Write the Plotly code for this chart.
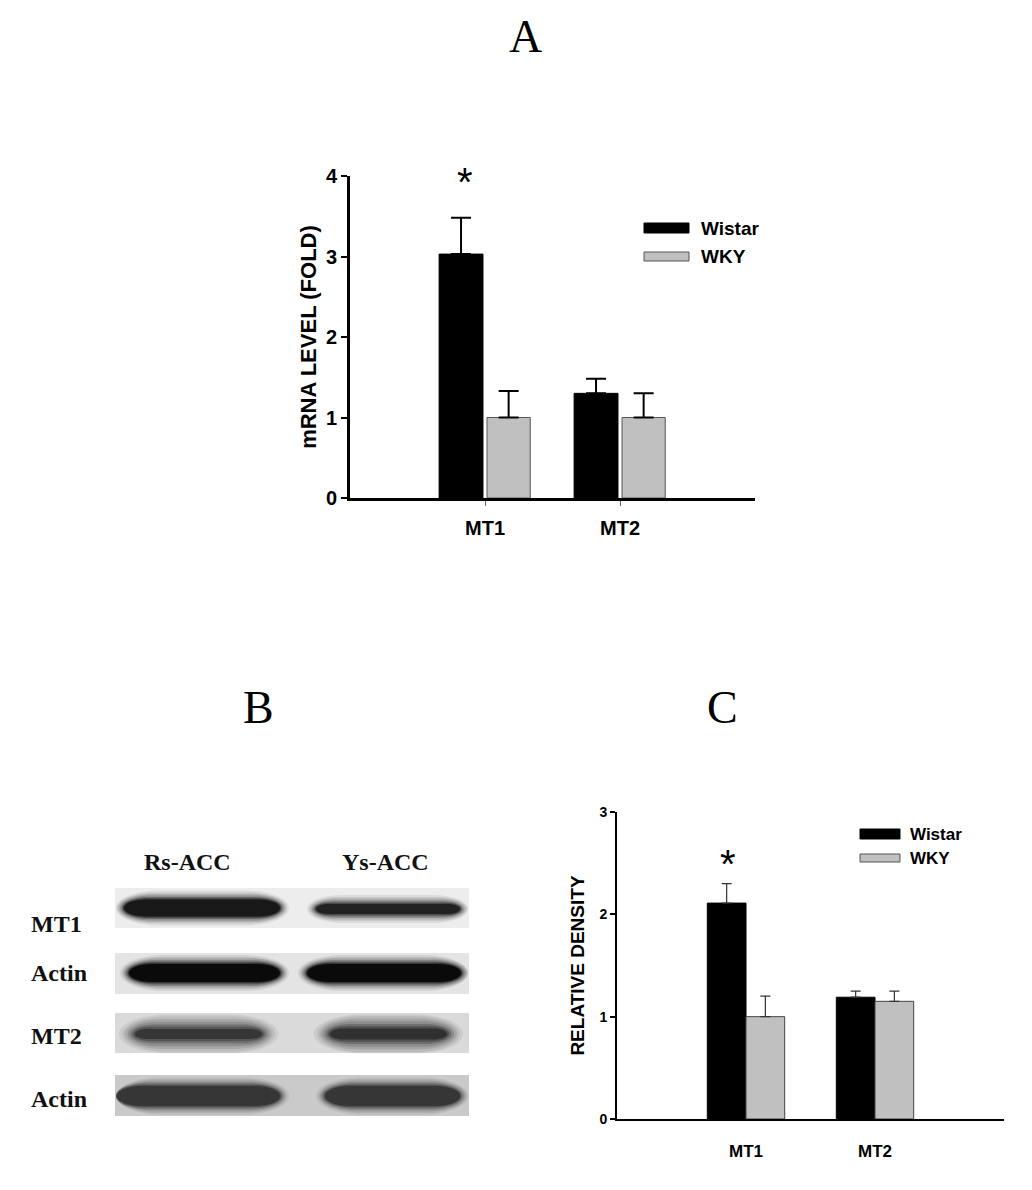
import plotly.graph_objects as go

# the page puts the figure 8px in from the top-left corner
OFF = 8
W, H = 1032 - 2 * OFF, 1190 - 2 * OFF

# ── Data ────────────────────────────────────────────────────────────────
categories = ["MT1", "MT2"]
x_pos = [1, 2]

mrna_wistar = [3.03, 1.30]
mrna_wistar_err = [0.45, 0.18]
mrna_wky = [1.00, 1.00]
mrna_wky_err = [0.33, 0.30]

dens_wistar = [2.11, 1.19]
dens_wistar_err = [0.19, 0.06]
dens_wky = [1.00, 1.15]
dens_wky_err = [0.20, 0.10]

blot_lanes = ["Rs-ACC", "Ys-ACC"]
blot_rows = ["MT1", "Actin", "MT2", "Actin"]

SANS = "Liberation Sans, Arial, sans-serif"
SERIF = "Liberation Serif, Times New Roman, serif"
BLACK = "#000000"
GREY = "#c0c0c0"


def px(x):
    return (x - OFF) / W


def py(y):
    return 1 - (y - OFF) / H


fig = go.Figure()

# ── Panel A ─────────────────────────────────────────────────────────────
fig.add_trace(go.Bar(
    x=x_pos, y=mrna_wistar, width=0.325, offset=-0.34,
    marker=dict(color=BLACK, line=dict(color=BLACK, width=1)),
    error_y=dict(type="data", symmetric=False, array=mrna_wistar_err,
                 arrayminus=[0, 0], color=BLACK, thickness=2, width=10),
    name="Wistar", showlegend=False, xaxis="x", yaxis="y"))
fig.add_trace(go.Bar(
    x=x_pos, y=mrna_wky, width=0.32, offset=0.015,
    marker=dict(color=GREY, line=dict(color="#555555", width=1)),
    error_y=dict(type="data", symmetric=False, array=mrna_wky_err,
                 arrayminus=[0, 0], color=BLACK, thickness=2, width=10),
    name="WKY", showlegend=False, xaxis="x", yaxis="y"))

# ── Panel C ─────────────────────────────────────────────────────────────
fig.add_trace(go.Bar(
    x=x_pos, y=dens_wistar, width=0.3, offset=-0.3,
    marker=dict(color=BLACK, line=dict(color=BLACK, width=1)),
    error_y=dict(type="data", symmetric=False, array=dens_wistar_err,
                 arrayminus=[0, 0], color="#333333", thickness=1.2, width=5),
    name="Wistar", showlegend=False, xaxis="x2", yaxis="y2"))
fig.add_trace(go.Bar(
    x=x_pos, y=dens_wky, width=0.3, offset=0.0,
    marker=dict(color=GREY, line=dict(color="#444444", width=1)),
    error_y=dict(type="data", symmetric=False, array=dens_wky_err,
                 arrayminus=[0, 0], color="#333333", thickness=1.2, width=5),
    name="WKY", showlegend=False, xaxis="x2", yaxis="y2"))

shapes = []
annots = []

# manual legends (long flat swatches like the original)
for (x0, x1, yw, yk, tx, fs) in [(644, 689, (223, 233), (252, 261), 699, 19),
                                  (860, 900, (829, 839), (854, 862), 908, 17)]:
    shapes.append(dict(type="rect", xref="paper", yref="paper",
                       x0=px(x0), x1=px(x1), y0=py(yw[1]), y1=py(yw[0]),
                       fillcolor=BLACK, line=dict(color=BLACK, width=1)))
    shapes.append(dict(type="rect", xref="paper", yref="paper",
                       x0=px(x0), x1=px(x1), y0=py(yk[1]), y1=py(yk[0]),
                       fillcolor=GREY, line=dict(color="#555555", width=1)))
    for label, (a, b) in zip(["Wistar", "WKY"], [yw, yk]):
        annots.append(dict(text=f"<b>{label}</b>", xref="paper", yref="paper",
                           x=px(tx), y=py((a + b) / 2), xanchor="left",
                           yanchor="middle", showarrow=False,
                           font=dict(family=SANS, size=fs, color=BLACK)))

# significance stars
annots.append(dict(text="*", xref="paper", yref="paper", x=px(465), y=py(182),
                   xanchor="center", yanchor="middle", showarrow=False,
                   font=dict(family=SANS, size=40, color=BLACK)))
annots.append(dict(text="*", xref="paper", yref="paper", x=px(728), y=py(864),
                   xanchor="center", yanchor="middle", showarrow=False,
                   font=dict(family=SANS, size=40, color=BLACK)))

# panel letters
for letter, (lx, ly) in zip("ABC", [(525, 37), (258, 707), (722, 707)]):
    annots.append(dict(text=letter, xref="paper", yref="paper",
                       x=px(lx), y=py(ly), xanchor="center", yanchor="middle",
                       showarrow=False,
                       font=dict(family=SERIF, size=46, color=BLACK)))

# ── Panel B : western blot drawn with shapes ────────────────────────────
strips = [  # y0, y1, background
    (888, 928, "#ededed"),
    (953, 994, "#e4e4e4"),
    (1013, 1053, "#dadada"),
    (1075, 1116, "#cacaca"),
]
bands = [  # strip index, x0, x1, y-centre, height, colour, blur
    (0, 124, 280, 908, 17, "#141414", 1.0),
    (0, 316, 460, 909, 10, "#1e1e1e", 1.0),
    (1, 129, 280, 973, 18, "#060606", 1.0),
    (1, 307, 461, 973, 18, "#060606", 1.0),
    (2, 135, 262, 1034, 10, "#333333", 1.8),
    (2, 330, 447, 1034, 11, "#2c2c2c", 1.8),
    (3, 117, 280, 1096, 20, "#333333", 1.0),
    (3, 325, 460, 1096, 20, "#333333", 1.0),
]


def stadium(x0, x1, yc, h):
    ry = h / 2
    rx = min(ry * 2.5, (x1 - x0) / 2)
    k = 0.5523
    a, b = x0 + rx, x1 - rx
    top, bot = yc - ry, yc + ry
    pts = [
        f"M{px(a)},{py(top)}",
        f"L{px(b)},{py(top)}",
        f"C{px(b + k * rx)},{py(top)} {px(x1)},{py(yc - k * ry)} {px(x1)},{py(yc)}",
        f"C{px(x1)},{py(yc + k * ry)} {px(b + k * rx)},{py(bot)} {px(b)},{py(bot)}",
        f"L{px(a)},{py(bot)}",
        f"C{px(a - k * rx)},{py(bot)} {px(x0)},{py(yc + k * ry)} {px(x0)},{py(yc)}",
        f"C{px(x0)},{py(yc - k * ry)} {px(a - k * rx)},{py(top)} {px(a)},{py(top)}",
        "Z",
    ]
    return " ".join(pts)


for y0, y1, bg in strips:
    shapes.append(dict(type="rect", xref="paper", yref="paper",
                       x0=px(115), x1=px(469), y0=py(y1), y1=py(y0),
                       fillcolor=bg, line=dict(width=0), layer="above"))

for si, x0, x1, yc, h, col, blur in bands:
    y0s, y1s, _ = strips[si]
    for grow, op in [(9, 0.08), (7, 0.1), (5.5, 0.14), (4, 0.2),
                     (2.5, 0.3), (1.2, 0.45), (0, 0.9)]:
        g = grow * blur
        hh = min(h + 2 * g, (y1s - y0s) - 1)
        shapes.append(dict(type="path", xref="paper", yref="paper",
                           path=stadium(max(x0 - g, 116), min(x1 + g, 468), yc, hh),
                           fillcolor=col, opacity=op, line=dict(width=0),
                           layer="above"))

for lane, cx in zip(blot_lanes, [187, 385]):
    annots.append(dict(text=f"<b>{lane}</b>", xref="paper", yref="paper",
                       x=px(cx), y=py(862), xanchor="center", yanchor="middle",
                       showarrow=False,
                       font=dict(family=SERIF, size=24, color="#111111")))

for row, cy in zip(blot_rows, [924, 973, 1036, 1099]):
    annots.append(dict(text=f"<b>{row}</b>", xref="paper", yref="paper",
                       x=px(29), y=py(cy), xanchor="left", yanchor="middle",
                       showarrow=False,
                       font=dict(family=SERIF, size=24, color="#111111")))

# ── Axes ────────────────────────────────────────────────────────────────
fig.update_layout(
    width=W, height=H,
    margin=dict(l=0, r=0, t=0, b=0),
    plot_bgcolor="white", paper_bgcolor="white",
    barmode="overlay",
    shapes=shapes, annotations=annots,
    xaxis=dict(domain=[px(350), px(755)], anchor="y", range=[0, 3],
               tickvals=x_pos, ticktext=[f"<b>{c}</b>" for c in categories],
               ticks="outside", ticklen=5, tickwidth=1, tickcolor="#666666",
               ticklabelstandoff=5,
               showline=True, linewidth=3, linecolor=BLACK,
               showgrid=False, zeroline=False,
               tickfont=dict(family=SANS, size=20, color=BLACK)),
    yaxis=dict(domain=[py(498), py(176)], anchor="x", range=[0, 4],
               tickvals=[0, 1, 2, 3, 4], ticktext=[f"<b>{v}</b>" for v in range(5)],
               ticks="outside", ticklen=6, tickwidth=2, tickcolor=BLACK,
               showline=True, linewidth=3, linecolor=BLACK,
               showgrid=False, zeroline=False, automargin=False,
               tickfont=dict(family=SANS, size=20, color=BLACK),
               title=dict(text="<b>mRNA LEVEL (FOLD)</b>", standoff=4,
                          font=dict(family=SANS, size=22, color=BLACK))),
    xaxis2=dict(domain=[px(617), px(1004)], anchor="y2", range=[0, 3],
                tickvals=x_pos, ticktext=[f"<b>{c}</b>" for c in categories],
                ticks="", ticklabelstandoff=16,
                showline=True, linewidth=2, linecolor=BLACK,
                showgrid=False, zeroline=False,
                tickfont=dict(family=SANS, size=17, color=BLACK)),
    yaxis2=dict(domain=[py(1119), py(812)], anchor="x2", range=[0, 3],
                tickvals=[0, 1, 2, 3], ticktext=[f"<b>{v}</b>" for v in range(4)],
                ticks="outside", ticklen=5, tickwidth=1.5, tickcolor=BLACK,
                showline=True, linewidth=2, linecolor=BLACK,
                showgrid=False, zeroline=False, automargin=False,
                tickfont=dict(family=SANS, size=14, color=BLACK),
                title=dict(text="<b>RELATIVE DENSITY</b>", standoff=10,
                           font=dict(family=SANS, size=19, color=BLACK))),
)

fig.write_html("out.html")
